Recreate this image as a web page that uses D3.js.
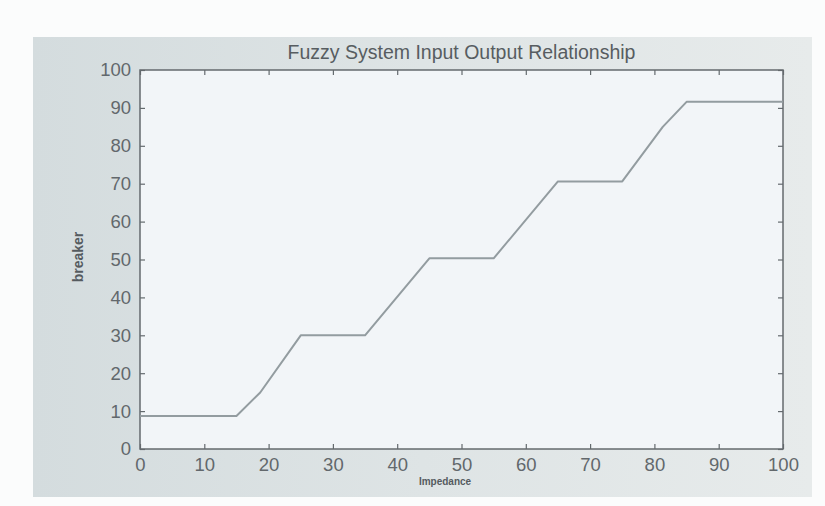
<!DOCTYPE html>
<html>
<head>
<meta charset="utf-8">
<script src="https://cdn.jsdelivr.net/npm/d3@7"></script>
<style>
  html, body { margin: 0; padding: 0; background: #fbfcfc; }
  svg { display: block; }
  text { font-family: "Liberation Sans", Arial, sans-serif; fill: #5c6266; }
</style>
</head>
<body>
<svg id="chart" width="825" height="506"></svg>
<script>
// Fuzzy controller response: breaker output versus impedance input
const impedance = [0, 15, 18.7, 25, 35, 45, 55, 65, 75, 81.3, 85, 100];
const breaker   = [8.7, 8.7, 14.9, 30, 30, 50.3, 50.3, 70.6, 70.6, 85, 91.6, 91.6];

const xTicks = [0, 10, 20, 30, 40, 50, 60, 70, 80, 90, 100];
const yTicks = [0, 10, 20, 30, 40, 50, 60, 70, 80, 90, 100];

const titleText = "Fuzzy System Input Output Relationship";
const xLabel = "Impedance";
const yLabel = "breaker";

const svg = d3.select("#chart");
const plot = { left: 140, right: 783, top: 70, bottom: 449 };

// figure backdrop
const defs = svg.append("defs");
const grad = defs.append("linearGradient").attr("id", "figbg")
  .attr("x1", "0").attr("x2", "1").attr("y1", "0").attr("y2", "0");
grad.append("stop").attr("offset", "0").attr("stop-color", "#d4dcde");
grad.append("stop").attr("offset", "0.5").attr("stop-color", "#dee4e5");
grad.append("stop").attr("offset", "1").attr("stop-color", "#e7ebeb");

svg.append("rect").attr("x", 33).attr("y", 37).attr("width", 779).attr("height", 460)
  .attr("fill", "url(#figbg)");

const x = d3.scaleLinear().domain([0, 100]).range([plot.left, plot.right]);
const y = d3.scaleLinear().domain([0, 100]).range([plot.bottom, plot.top]);

// axes interior
svg.append("rect")
  .attr("x", plot.left).attr("y", plot.top)
  .attr("width", plot.right - plot.left).attr("height", plot.bottom - plot.top)
  .attr("fill", "#f2f5f8");

const axisColor = "#646a6e";
const tickLen = 5;

function styleAxis(g, showLabels) {
  g.select(".domain").remove();
  g.selectAll(".tick line").attr("stroke", axisColor).attr("stroke-width", 1.2);
  g.selectAll(".tick text")
    .style("font-size", "18.5px")
    .style("fill", "#62686c")
    .style("display", showLabels ? null : "none");
}

// bottom axis (ticks point inward)
svg.append("g").attr("transform", `translate(0,${plot.bottom})`)
  .call(d3.axisBottom(x).tickValues(xTicks).tickSize(-tickLen).tickPadding(tickLen + 4))
  .call(g => styleAxis(g, true));
// top axis ticks
svg.append("g").attr("transform", `translate(0,${plot.top})`)
  .call(d3.axisTop(x).tickValues(xTicks).tickSize(-tickLen))
  .call(g => styleAxis(g, false));
// left axis
svg.append("g").attr("transform", `translate(${plot.left},0)`)
  .call(d3.axisLeft(y).tickValues(yTicks).tickSize(-tickLen).tickPadding(tickLen + 4))
  .call(g => styleAxis(g, true));
// right axis ticks
svg.append("g").attr("transform", `translate(${plot.right},0)`)
  .call(d3.axisRight(y).tickValues(yTicks).tickSize(-tickLen))
  .call(g => styleAxis(g, false));

// box
svg.append("rect")
  .attr("x", plot.left).attr("y", plot.top)
  .attr("width", plot.right - plot.left).attr("height", plot.bottom - plot.top)
  .attr("fill", "none").attr("stroke", axisColor).attr("stroke-width", 1.5);

// response curve
const pts = impedance.map((v, i) => [v, breaker[i]]);
svg.append("path")
  .datum(pts)
  .attr("fill", "none")
  .attr("stroke", "#939ca0")
  .attr("stroke-width", 2)
  .attr("stroke-linejoin", "round")
  .attr("d", d3.line().x(d => x(d[0])).y(d => y(d[1])));

// title and labels
svg.append("text")
  .attr("x", (plot.left + plot.right) / 2).attr("y", 59)
  .attr("text-anchor", "middle")
  .style("font-size", "19.5px")
  .style("fill", "#575d61")
  .text(titleText);

svg.append("text")
  .attr("x", 445).attr("y", 485)
  .attr("text-anchor", "middle")
  .style("font-size", "10px").style("font-weight", "bold")
  .style("fill", "#555b5f")
  .text(xLabel);

svg.append("text")
  .attr("transform", `translate(83,257) rotate(-90)`)
  .attr("text-anchor", "middle")
  .style("font-size", "14px").style("font-weight", "bold")
  .style("fill", "#555b5f")
  .text(yLabel);
</script>
</body>
</html>
